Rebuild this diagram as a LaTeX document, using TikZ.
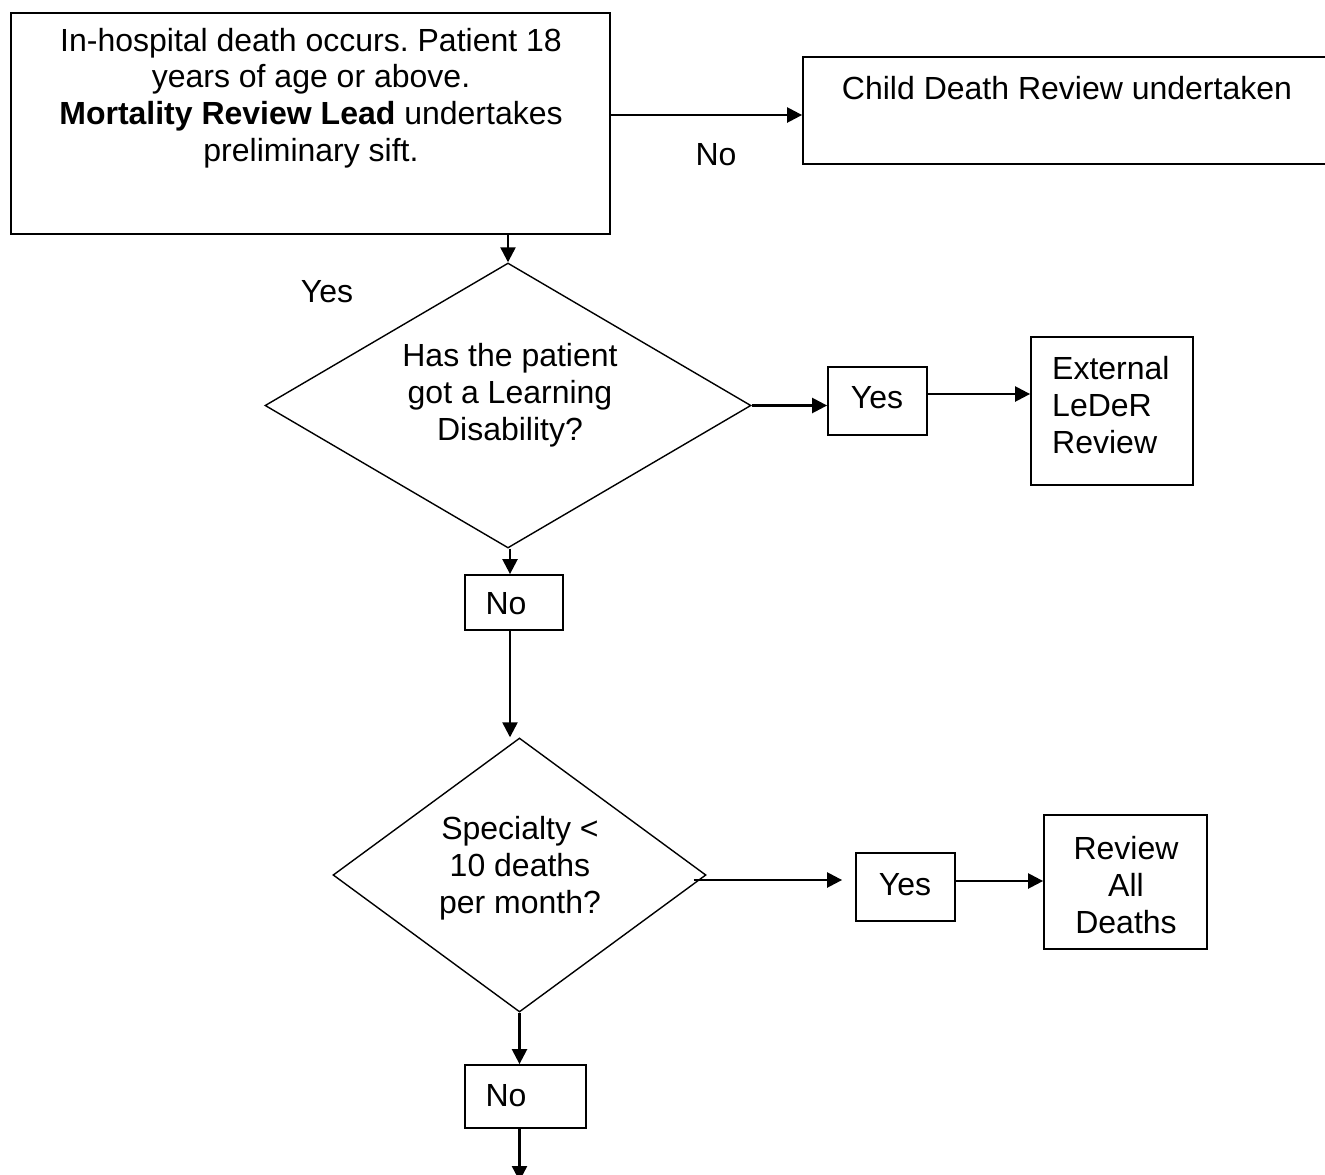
\documentclass[tikz,border=0pt]{standalone}
\usepackage{fontspec}
\setmainfont{Liberation Sans}
\usetikzlibrary{shapes.geometric,arrows.meta}
\begin{document}
\frenchspacing
\begin{tikzpicture}[x=1pt,y=-1pt,
  txt/.style={font=\fontsize{32}{36.8}\selectfont, inner sep=0pt, align=center},
  boxnode/.style={draw, line width=1.8pt, inner sep=0pt},
  dia/.style={draw, diamond, line width=1.4pt, inner sep=0pt},
  arr/.style={line width=2.4pt, -{Triangle[length=15pt,width=15pt]}}]
\useasboundingbox (0,0) rectangle (1325,1175);
\fill[white] (0,0) rectangle (1325,1175);
\clip (0,0) rectangle (1325,1175);
% boxes
\node[boxnode, minimum width=599, minimum height=221] (top) at (310.5,123.5) {};
\node[txt] (toptext) at (311,98) {In-hospital death occurs. Patient 18\\years of age or above.\\\textbf{Mortality Review Lead} undertakes\\preliminary sift.};
\node[boxnode, minimum width=537, minimum height=107] (child) at (1071.5,110.5) {};
\node[txt] (childtext) at (1067,88) {Child Death Review undertaken};
\node[txt] (nolab) at (716,155) {No};
\node[txt] (yeslab) at (327,292) {Yes};
% diamond 1
\node[dia, minimum width=486, minimum height=285] (d1) at (508,405.5) {};
\node[txt] (d1text) at (510,395) {Has the patient\\got a Learning\\Disability?};
\node[boxnode, minimum width=99, minimum height=68] (yes1) at (877.5,401) {};
\node[txt] (yes1text) at (877,398) {Yes};
\node[boxnode, minimum width=162, minimum height=148] (ext) at (1112,411) {};
\node[txt, align=left, anchor=west] (exttext) at (1052,405) {External\\LeDeR\\Review};
\node[boxnode, minimum width=98, minimum height=55] (no1) at (514,602.5) {};
\node[txt] (no1text) at (506,604) {No};
% diamond 2
\node[dia, minimum width=373, minimum height=274] (d2) at (519.5,875) {};
\node[txt] (d2text) at (520,868) {Specialty <\\10 deaths\\per month?};
\node[boxnode, minimum width=99, minimum height=68] (yes2) at (905.5,887) {};
\node[txt] (yes2text) at (905,885) {Yes};
\node[boxnode, minimum width=163, minimum height=134] (rev) at (1125.5,882) {};
\node[txt] (revtext) at (1126,885) {Review\\All\\Deaths};
\node[boxnode, minimum width=121, minimum height=63] (no2) at (525.5,1096.5) {};
\node[txt] (no2text) at (506,1096) {No};
\coordinate (endpt) at (519.5,1181);
% connectors
\draw[arr] (top.east |- child.west) ++(0,4.5) -- ([yshift=-4.5pt]child.west);
\draw[arr] (top.south -| d1.north) -- (d1.north);
\draw[arr] (d1.east) -- (d1.east -| yes1.west);
\draw[arr] ([yshift=7pt]yes1.east) -- ([yshift=7pt]yes1.east -| ext.west);
\draw[arr] ([xshift=2pt]d1.south) -- ([xshift=2pt]d1.south |- no1.north);
\draw[arr] ([xshift=2pt]d1.south |- no1.south) -- ([xshift=2pt]d1.south |- d2.north);
\draw[arr] ([xshift=-13pt,yshift=-5pt]d2.east) -- ([xshift=-13pt,yshift=-5pt]d2.east -| yes2.west);
\draw[arr] ([yshift=6pt]yes2.east) -- ([yshift=6pt]yes2.east -| rev.west);
\draw[arr] (d2.south) -- (d2.south |- no2.north);
\draw[arr] (d2.south |- no2.south) -- (endpt);
\end{tikzpicture}
\end{document}
